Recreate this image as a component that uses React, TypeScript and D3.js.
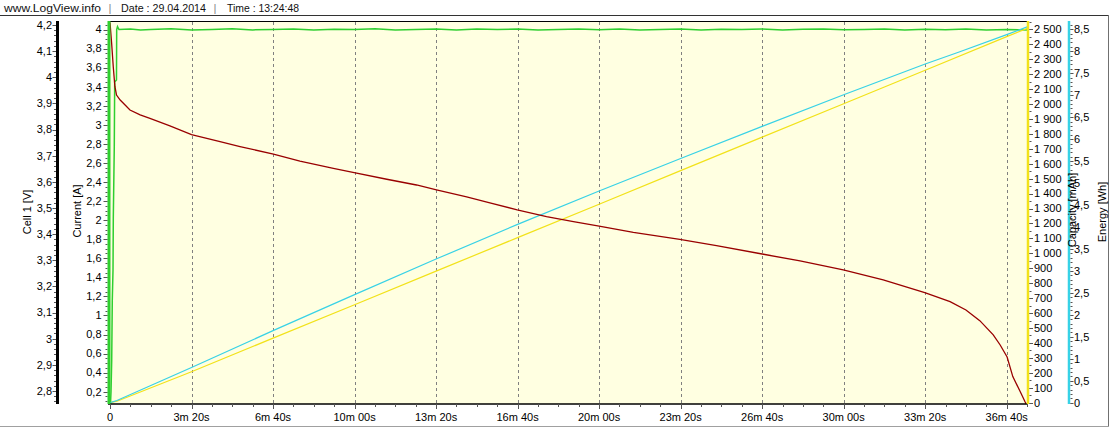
import * as d3 from 'd3';

// ---- data read off the LogView export ----
// time in seconds, values in the units of each axis
const voltagePts: [number, number][] = [
  [0, 4.21], [4, 4.13], [8, 4.04], [12, 3.965], [16, 3.932], [25, 3.913], [49, 3.875],
  [74, 3.856], [98, 3.843], [147, 3.814], [200, 3.781], [270, 3.754],
  [319, 3.735], [401, 3.706], [466, 3.679], [548, 3.652], [599, 3.635], [679, 3.61],
  [752, 3.588], [801, 3.569], [875, 3.543], [932, 3.52], [999, 3.493], [1071, 3.467],
  [1137, 3.448], [1200, 3.431], [1284, 3.407], [1398, 3.38], [1488, 3.356], [1600, 3.324],
  [1693, 3.298], [1799, 3.263], [1897, 3.225], [1999, 3.176], [2061, 3.142], [2100, 3.11],
  [2134, 3.069], [2167, 3.015], [2184, 2.976], [2201, 2.93], [2215, 2.855], [2233, 2.798],
  [2245, 2.759], [2248, 2.75],
];

const currentPts: [number, number][] = [
  [0, 0.07], [1.2, 0.07], [2.5, 0.2], [4.2, 0.53], [5.6, 1.16], [7.4, 1.48], [8.1, 2.02],
  [10.5, 2.77], [11.5, 3.45], [15.9, 3.47], [16.4, 4.0], [18.4, 4.03], [22, 4.0],
  [50, 4.006], [75, 3.996], [100, 4.0], [150, 4.007], [200, 3.995], [250, 4.0], [300, 4.007],
  [350, 3.996], [400, 4.0], [450, 4.006], [500, 3.995], [550, 4.003], [600, 4.0], [650, 4.007],
  [700, 3.995], [750, 4.0], [800, 4.005], [850, 3.996], [900, 4.004], [950, 4.0], [1000, 4.006],
  [1050, 3.995], [1100, 4.0], [1150, 4.006], [1200, 3.997], [1250, 4.004], [1300, 3.995],
  [1350, 4.0], [1400, 4.006], [1450, 3.996], [1500, 4.003], [1550, 4.0], [1600, 4.006],
  [1650, 3.995], [1700, 4.002], [1750, 4.006], [1800, 3.997], [1850, 4.0], [1900, 4.005],
  [1950, 3.995], [2000, 4.003], [2050, 3.997], [2100, 4.006], [2150, 3.995], [2200, 4.0],
  [2252, 3.996],
];

const capacityPts: [number, number][] = [
  [0, 0], [17, 10], [200, 207], [400, 432], [600, 656], [800, 881], [1000, 1105],
  [1200, 1329], [1400, 1554], [1600, 1778], [1800, 2002], [2000, 2226], [2200, 2451],
  [2252, 2508],
];

const energyPts: [number, number][] = [
  [0, 0], [17, 0.05], [200, 0.8], [400, 1.64], [600, 2.46], [800, 3.27], [1000, 4.06],
  [1200, 4.82], [1400, 5.56], [1600, 6.29], [1800, 7.01], [2000, 7.71], [2085, 7.99],
  [2200, 8.38], [2252, 8.56],
];

const xTickSec = [0, 200, 400, 600, 800, 1000, 1200, 1400, 1600, 1800, 2000, 2200];
const xTickLabels = ['0', '3m 20s', '6m 40s', '10m 00s', '13m 20s', '16m 40s', '20m 00s',
  '23m 20s', '26m 40s', '30m 00s', '33m 20s', '36m 40s'];
const voltTicks = [2.8, 2.9, 3, 3.1, 3.2, 3.3, 3.4, 3.5, 3.6, 3.7, 3.8, 3.9, 4, 4.1, 4.2];
const currentTicks = [0.2, 0.4, 0.6, 0.8, 1, 1.2, 1.4, 1.6, 1.8, 2, 2.2, 2.4, 2.6, 2.8, 3,
  3.2, 3.4, 3.6, 3.8, 4];
const capTicks = [0, 100, 200, 300, 400, 500, 600, 700, 800, 900, 1000, 1100, 1200, 1300,
  1400, 1500, 1600, 1700, 1800, 1900, 2000, 2100, 2200, 2300, 2400, 2500];
const energyTicks = [0, 0.5, 1, 1.5, 2, 2.5, 3, 3.5, 4, 4.5, 5, 5.5, 6, 6.5, 7, 7.5, 8, 8.5];

const W = 1112;
const H = 429;
const plot = { left: 110, right: 1028, top: 21, bottom: 404 };

const C = {
  bg: '#ffffe1',
  volt: '#990000',
  current: '#2fcf2f',
  cap: '#f2e21a',
  energy: '#38d2e6',
  grid: '#808080',
  tick: '#555555',
};

const comma = (v: number) => String(+v.toFixed(2)).replace('.', ',');
const spaced = (v: number) => d3.format(',')(v).replace(/,/g, ' ');

export default function App() {
  const x = d3.scaleLinear().domain([0, 2200]).range([110, 1006.7]);
  const yV = d3.scaleLinear().domain([2.8, 4.2]).range([391, 25]);
  const yI = d3.scaleLinear().domain([0.2, 4]).range([391.7, 29.5]);
  const yC = d3.scaleLinear().domain([0, 2500]).range([402.7, 29.3]);
  const yE = d3.scaleLinear().domain([0, 8.5]).range([402.7, 29.3]);

  const mk = (y: d3.ScaleLinear<number, number>) =>
    d3.line<[number, number]>().x(d => x(d[0])).y(d => y(d[1]));

  const xMinor = d3.range(0, 2251, 50).filter(t => t % 200 !== 0);
  const vMinor = d3.range(0, 74).map(i => 2.76 + i * 0.02).filter(v => yV(v) >= plot.top && yV(v) <= plot.bottom);
  const iMinor = d3.range(0, 82).map(i => 0.1 + i * 0.05).filter(v => yI(v) >= plot.top && yI(v) <= plot.bottom);
  const cMinor = d3.range(0, 52).map(i => i * 50).filter(v => yC(v) >= plot.top);
  const eMinor = d3.range(0, 87).map(i => i * 0.1).filter(v => yE(v) >= plot.top);

  const font = { fontFamily: '"Liberation Sans", Arial, sans-serif', fontSize: 11 };

  return (
    <svg width={W} height={H} style={{ position: 'absolute', left: 0, top: 0, background: '#fff' }}>
      <defs>
        <clipPath id="plotClip">
          <rect x={plot.left} y={plot.top} width={plot.right - plot.left} height={plot.bottom - plot.top} />
        </clipPath>
      </defs>

      {/* header */}
      <g style={{ fontFamily: '"Liberation Sans", Arial, sans-serif', fontSize: 11.5 }} fill="#111">
        <text x={4} y={12} textLength={97} lengthAdjust="spacingAndGlyphs">www.LogView.info</text>
        <text x={108.5} y={12} fill="#888">|</text>
        <text x={121} y={12} textLength={85} lengthAdjust="spacingAndGlyphs" style={{ fontSize: 10.8 }}>Date : 29.04.2014</text>
        <text x={213.5} y={12} fill="#888">|</text>
        <text x={227} y={12} textLength={72} lengthAdjust="spacingAndGlyphs" style={{ fontSize: 11 }}>Time : 13:24:48</text>
      </g>
      <line x1={0} x2={1109} y1={15.5} y2={15.5} stroke="#333" />
      <line x1={1108.5} x2={1108.5} y1={15} y2={426} stroke="#707070" />
      <line x1={0} x2={1109} y1={426.5} y2={426.5} stroke="#a0a0a0" />

      {/* plot area */}
      <rect x={109} y={plot.top} width={plot.right - 109} height={plot.bottom - plot.top} fill={C.bg} />
      {xTickSec.filter(t => t > 0).map(t => (
        <line key={t} x1={Math.round(x(t)) + 0.5} x2={Math.round(x(t)) + 0.5} y1={plot.top + 1} y2={plot.bottom}
          stroke={C.grid} strokeDasharray="3,3" />
      ))}
      <line x1={109} x2={plot.right} y1={plot.top + 0.5} y2={plot.top + 0.5} stroke="#000" />

      {/* series */}
      <g clipPath="url(#plotClip)" fill="none">
        <path d={mk(yI)(currentPts) ?? ''} stroke={C.current} strokeWidth={1.5} />
        <path d={mk(yC)(capacityPts) ?? ''} stroke={C.cap} strokeWidth={1.2} />
        <path d={mk(yE)(energyPts) ?? ''} stroke={C.energy} strokeWidth={1.2} />
        <path d={mk(yV)(voltagePts) ?? ''} stroke={C.volt} strokeWidth={1.3} />
      </g>

      {/* x axis */}
      <line x1={108} x2={plot.right} y1={404} y2={404} stroke="#000" strokeWidth={1.6} />
      <g style={font} fill="#000" textAnchor="middle">
        {xTickSec.map((t, i) => (
          <g key={t}>
            <line x1={Math.round(x(t)) + 0.5} x2={Math.round(x(t)) + 0.5} y1={404} y2={409} stroke={C.tick} />
            <text x={x(t)} y={421}>{xTickLabels[i]}</text>
          </g>
        ))}
        {xMinor.map(t => (
          <line key={t} x1={Math.round(x(t)) + 0.5} x2={Math.round(x(t)) + 0.5} y1={404} y2={407} stroke={C.tick} />
        ))}
      </g>

      {/* Cell 1 [V] axis */}
      <line x1={57.5} x2={57.5} y1={plot.top} y2={plot.bottom} stroke="#000" strokeWidth={3} />
      <g style={font} fill="#000" textAnchor="end">
        {vMinor.map(v => (
          <line key={v} x1={54} x2={56} y1={Math.round(yV(v)) + 0.5} y2={Math.round(yV(v)) + 0.5} stroke={C.tick} />
        ))}
        {voltTicks.map(v => (
          <g key={v}>
            <line x1={52.5} x2={56} y1={Math.round(yV(v)) + 0.5} y2={Math.round(yV(v)) + 0.5} stroke={C.tick} />
            <text x={52} y={yV(v)} dy="0.35em">{comma(v)}</text>
          </g>
        ))}
      </g>
      <text transform="translate(30.5,212) rotate(-90)" textAnchor="middle" style={font}>Cell 1 [V]</text>

      {/* Current [A] axis */}
      <g style={font} fill="#000" textAnchor="end">
        {iMinor.map(v => (
          <line key={v} x1={105.5} x2={107.5} y1={Math.round(yI(v)) + 0.5} y2={Math.round(yI(v)) + 0.5} stroke={C.tick} />
        ))}
        {currentTicks.map(v => (
          <g key={v}>
            <line x1={103.5} x2={107.5} y1={Math.round(yI(v)) + 0.5} y2={Math.round(yI(v)) + 0.5} stroke={C.tick} />
            <text x={101.5} y={yI(v)} dy="0.35em">{comma(v)}</text>
          </g>
        ))}
      </g>
      <line x1={109} x2={109} y1={plot.top} y2={plot.bottom} stroke={C.current} strokeWidth={3} />
      <text transform="translate(80.5,211) rotate(-90)" textAnchor="middle" style={font}>Current [A]</text>

      {/* Capacity [mAh] axis */}
      <line x1={1028} x2={1028} y1={plot.top} y2={plot.bottom} stroke={C.cap} strokeWidth={2.5} />
      <g style={font} fill="#000">
        {cMinor.map(v => (
          <line key={v} x1={1029.5} x2={1031.5} y1={Math.round(yC(v)) + 0.5} y2={Math.round(yC(v)) + 0.5} stroke={C.tick} />
        ))}
        {capTicks.map(v => (
          <g key={v}>
            <line x1={1029.5} x2={1033} y1={Math.round(yC(v)) + 0.5} y2={Math.round(yC(v)) + 0.5} stroke={C.tick} />
            <text x={1034} y={yC(v)} dy="0.35em">{spaced(v)}</text>
          </g>
        ))}
      </g>

      {/* Energy [Wh] axis */}
      <line x1={1069} x2={1069} y1={plot.top} y2={plot.bottom} stroke={C.energy} strokeWidth={2.5} />
      <g style={font} fill="#000">
        {eMinor.map(v => (
          <line key={v} x1={1070.5} x2={1072.5} y1={Math.round(yE(v)) + 0.5} y2={Math.round(yE(v)) + 0.5} stroke={C.tick} />
        ))}
        {energyTicks.map(v => (
          <g key={v}>
            <line x1={1070.5} x2={1073.5} y1={Math.round(yE(v)) + 0.5} y2={Math.round(yE(v)) + 0.5} stroke={C.tick} />
            <text x={1074} y={yE(v)} dy="0.35em">{comma(v)}</text>
          </g>
        ))}
      </g>
      <text transform="translate(1075.5,210) rotate(-90)" textAnchor="middle" style={font}>Capacity [mAh]</text>
      <text transform="translate(1106,212) rotate(-90)" textAnchor="middle" style={font}>Energy [Wh]</text>
    </svg>
  );
}
